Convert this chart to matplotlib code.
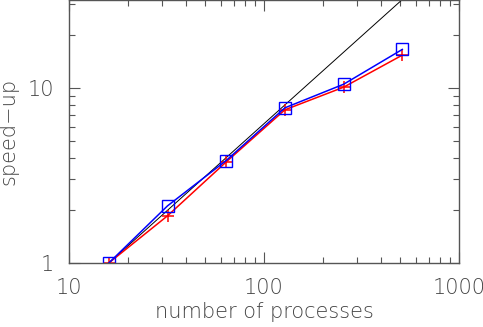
import matplotlib
matplotlib.use("Agg")
import matplotlib.pyplot as plt
from matplotlib.ticker import LogLocator, NullFormatter, FixedLocator, FixedFormatter

nproc = [16, 32, 64, 128, 256, 512]
speedup_blue = [1.0, 2.12, 3.85, 7.7, 10.5, 16.6]
speedup_red = [1.0, 1.86, 3.78, 7.5, 10.1, 15.4]
ideal_x = [16, 1024]
ideal_y = [1, 64]

plt.rcParams['font.family'] = ['DejaVu Sans']
plt.rcParams['font.weight'] = 'light'
plt.rcParams['axes.labelweight'] = 'light'
grey = '#555555'
tcol = '#444444'

fig = plt.figure(figsize=(4.83, 3.27), dpi=100)
ax = fig.add_axes([69/483, 1-263/327, 390/483, 263/327])

ax.plot(ideal_x, ideal_y, color='black', lw=0.7)
ax.plot(nproc, speedup_red, color='red', lw=1.1, marker='+', ms=9, mew=1.1)
ax.plot(nproc, speedup_blue, color='blue', lw=1.1, marker='s', ms=8,
        mfc='none', mew=1.0)

ax.set_xscale('log')
ax.set_yscale('log')
ax.set_xlim(10, 1000)
ax.set_ylim(1, 31.8)

ax.xaxis.set_major_locator(FixedLocator([10, 100, 1000]))
ax.xaxis.set_major_formatter(FixedFormatter(['10', '100', '1000']))
ax.yaxis.set_major_locator(FixedLocator([1, 10]))
ax.yaxis.set_major_formatter(FixedFormatter(['1', '10']))
ax.xaxis.set_minor_locator(LogLocator(base=10, subs=range(2, 10)))
ax.yaxis.set_minor_locator(LogLocator(base=10, subs=range(2, 10)))
ax.xaxis.set_minor_formatter(NullFormatter())
ax.yaxis.set_minor_formatter(NullFormatter())

ax.tick_params(which='both', direction='in', top=True, right=True,
               color=grey, width=0.8, labelsize=15, labelcolor=tcol)
ax.tick_params(which='major', length=8, pad=11)
ax.tick_params(which='minor', length=4)
for s in ax.spines.values():
    s.set_color(grey)
    s.set_linewidth(1.0)

ax.set_xlabel('number of processes', fontsize=15, color=tcol, labelpad=3)
ax.set_ylabel('speed\u2212up', fontsize=15, color=tcol, labelpad=6)

fig.savefig('out.png', dpi=100)
